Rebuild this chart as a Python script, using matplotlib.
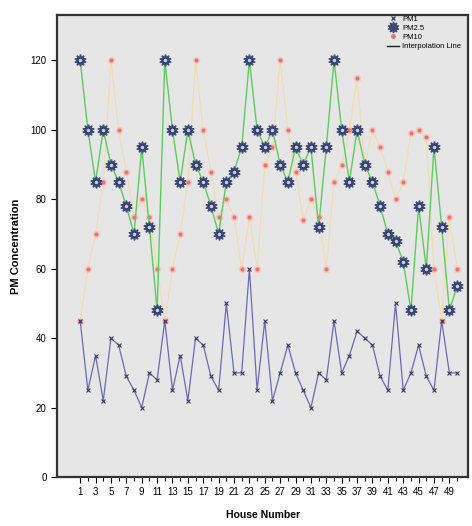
import matplotlib.pyplot as plt
from matplotlib.lines import Line2D

plt.rcParams['font.family'] = ['Liberation Sans Narrow', 'Liberation Sans', 'DejaVu Sans']

# house numbers 1..50
houses = list(range(1, 51))

pm1 = [45, 25, 35, 22, 40, 38, 29, 25, 20, 30,
       28, 45, 25, 35, 22, 40, 38, 29, 25, 50,
       30, 30, 60, 25, 45, 22, 30, 38, 30, 25,
       20, 30, 28, 45, 30, 35, 42, 40, 38, 29,
       25, 50, 25, 30, 38, 29, 25, 45, 30, 30]

pm25 = [120, 100, 85, 100, 90, 85, 78, 70, 95, 72,
        48, 120, 100, 85, 100, 90, 85, 78, 70, 85,
        88, 95, 120, 100, 95, 100, 90, 85, 95, 90,
        95, 72, 95, 120, 100, 85, 100, 90, 85, 78,
        70, 68, 62, 48, 78, 60, 95, 72, 48, 55]

pm10 = [45, 60, 70, 85, 120, 100, 88, 75, 80, 75,
        60, 45, 60, 70, 85, 120, 100, 88, 75, 80,
        75, 60, 75, 60, 90, 95, 120, 100, 88, 74,
        80, 75, 60, 85, 90, 100, 115, 90, 100, 95,
        88, 80, 85, 99, 100, 98, 60, 45, 75, 60]

labels = ["PM1", "PM2.5", "PM10", "Interpolation Line"]

fig = plt.figure(figsize=(4.72, 5.26), dpi=100)
ax = fig.add_axes([0.121, 0.093, 0.871, 0.878])
ax.set_facecolor('#e6e6e6')

# PM10: pale line, salmon dots
ax.plot(houses, pm10, color='#f2dcb0', lw=0.9, zorder=2)
ax.plot(houses, pm10, ls='none', marker='o', ms=5.5, mfc='#f6cac2', mec='none', zorder=3)
ax.plot(houses, pm10, ls='none', marker='o', ms=3, mfc='#e07870', mec='none', zorder=3)

# PM1: blue line with x markers
ax.plot(houses, pm1, color='#6a6ab4', lw=0.9, zorder=4)
ax.plot(houses, pm1, ls='none', marker='x', ms=2.8, mew=0.8, color='#3a3a5a', zorder=5)

# PM2.5: green line, gear-like markers
ax.plot(houses, pm25, color='#5ccc5c', lw=1.0, zorder=6)
ax.plot(houses, pm25, ls='none', marker=(10, 1, 0), ms=8.5, mfc='#3c4a78', mec='#3c4a78', zorder=7)
ax.plot(houses, pm25, ls='none', marker='o', ms=3.4, mfc='#c8cce0', mec='#2a3460', mew=0.7, zorder=8)

ax.set_xlim(-2, 51.45)
ax.set_ylim(0, 133)
ax.set_xticks(houses[::2])
ax.set_xticks(houses[1::2], minor=True)
ax.set_yticks([0, 20, 40, 60, 80, 100, 120])
ax.tick_params(axis='both', labelsize=7, length=4, width=0.8)
ax.tick_params(axis='x', which='minor', length=3, width=0.8)

for s in ax.spines.values():
    s.set_color('#333333')
    s.set_linewidth(1.6)

ax.set_xlabel("House Number", fontsize=7.5, fontweight='bold', labelpad=9)
ax.set_ylabel("PM Concentration", fontsize=8, fontweight='bold', labelpad=7)

handles = [
    Line2D([], [], ls='none', marker='x', ms=3, mew=0.9, color='#3a3a5a'),
    Line2D([], [], ls='none', marker=(10, 1, 0), ms=8, mfc='#3c4a78', mec='#3c4a78'),
    Line2D([], [], ls='none', marker='o', ms=3.5, mfc='#e07870', mec='none'),
    Line2D([], [], color='#222222', lw=1.0),
]
ax.legend(handles, labels, loc='upper right', bbox_to_anchor=(1.0, 1.015),
          frameon=False, fontsize=5.5, handlelength=1.6, handletextpad=0.4,
          labelspacing=0.25)

plt.savefig("out.png", dpi=100)
plt.close()
